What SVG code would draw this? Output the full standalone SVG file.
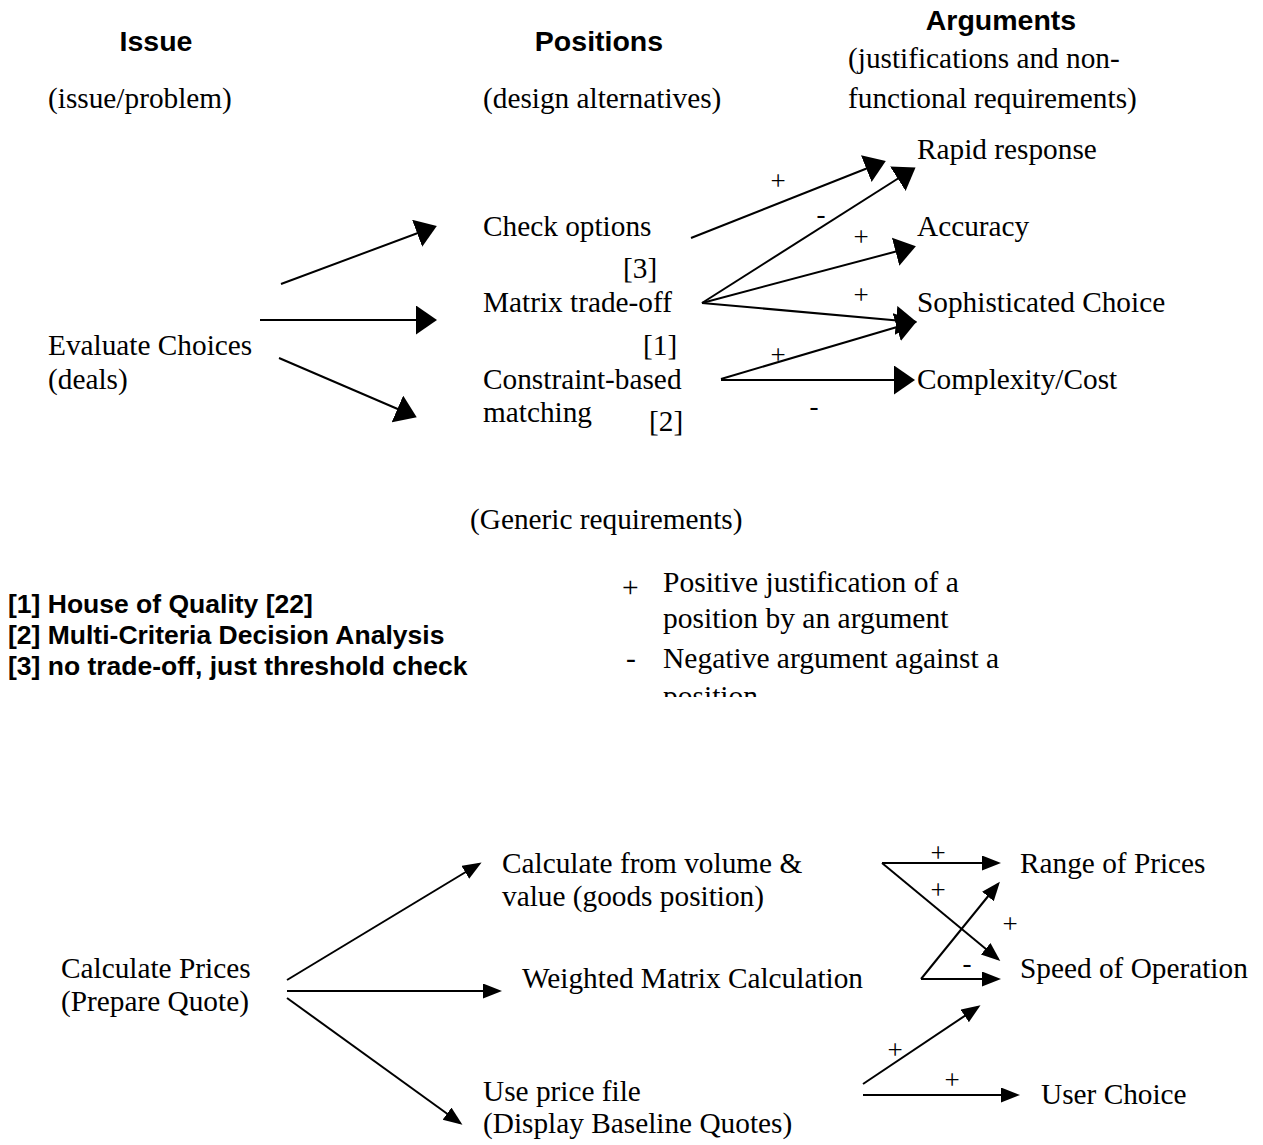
<svg xmlns="http://www.w3.org/2000/svg" width="1263" height="1145" viewBox="0 0 1263 1145">
  <style>
    .t { font-family: "Liberation Serif", "Times New Roman", serif; font-size: 29.3px; fill: #000; }
    .h { font-family: "Liberation Sans", Arial, sans-serif; font-size: 28.5px; font-weight: bold; fill: #000; }
    .lg { font-family: "Liberation Sans", Arial, sans-serif; font-size: 26.5px; font-weight: bold; fill: #000; }
    .k { font-family: "Liberation Serif", "Times New Roman", serif; font-size: 29.5px; fill: #000; }
    .s { font-family: "Liberation Serif", "Times New Roman", serif; font-size: 27px; fill: #000; }
    .c { stroke: #000; stroke-width: 2; fill: none; }
    .big { marker-end: url(#headBig); }
    .small { marker-end: url(#headSmall); }
  </style>
  <defs>
    <marker id="headBig" markerUnits="userSpaceOnUse" orient="auto" markerWidth="22" markerHeight="30" refX="18" refY="14.5">
      <path d="M0,0 L21,14.5 L0,29 z" fill="#000"/>
    </marker>
    <marker id="headSmall" markerUnits="userSpaceOnUse" orient="auto" markerWidth="20" markerHeight="16" refX="16" refY="7.5">
      <path d="M0,0 L19,7.5 L0,15 z" fill="#000"/>
    </marker>
    <clipPath id="legendClip">
      <rect x="600" y="560" width="500" height="137"/>
    </clipPath>
  </defs>
  <rect width="1263" height="1145" fill="#fff"/>

  <!-- column headings -->
  <g id="headings">
    <text class="h" x="156" y="51" text-anchor="middle">Issue</text>
    <text class="h" x="599" y="51" text-anchor="middle">Positions</text>
    <text class="h" x="1001" y="30" text-anchor="middle">Arguments</text>
    <text class="t" x="48" y="108">(issue/problem)</text>
    <text class="t" x="483" y="108">(design alternatives)</text>
    <text class="t" x="848" y="68">(justifications and non-</text>
    <text class="t" x="848" y="108">functional requirements)</text>
  </g>

  <!-- upper model: issue, positions, arguments -->
  <g id="issue-evaluate"><text class="t" x="48" y="355">Evaluate Choices</text><text class="t" x="48" y="389">(deals)</text></g>
  <g id="pos-check"><text class="t" x="483" y="236">Check options</text><text class="t" x="623" y="278">[3]</text></g>
  <g id="pos-matrix"><text class="t" x="483" y="312">Matrix trade-off</text><text class="t" x="643" y="355">[1]</text></g>
  <g id="pos-constraint"><text class="t" x="483" y="389">Constraint-based</text><text class="t" x="483" y="422">matching</text><text class="t" x="649" y="431">[2]</text></g>
  <g id="arg-rapid"><text class="t" x="917" y="159">Rapid response</text></g>
  <g id="arg-accuracy"><text class="t" x="917" y="236">Accuracy</text></g>
  <g id="arg-sophisticated"><text class="t" x="917" y="312">Sophisticated Choice</text></g>
  <g id="arg-complexity"><text class="t" x="917" y="389">Complexity/Cost</text></g>

  <g id="generic-note"><text class="t" x="470" y="529">(Generic requirements)</text></g>

  <!-- reference notes -->
  <g id="refs">
    <text class="lg" x="8" y="613">[1] House of Quality [22]</text>
    <text class="lg" x="8" y="644">[2] Multi-Criteria Decision Analysis</text>
    <text class="lg" x="8" y="675">[3] no trade-off, just threshold check</text>
  </g>

  <!-- key for + / - -->
  <g id="key" clip-path="url(#legendClip)">
    <text class="k" x="622" y="597">+</text>
    <text class="k" x="663" y="592">Positive justification of a</text>
    <text class="k" x="663" y="628">position by an argument</text>
    <text class="k" x="626" y="668">-</text>
    <text class="k" x="663" y="668">Negative argument against a</text>
    <text class="k" x="663" y="706">position</text>
  </g>

  <!-- lower model -->
  <g id="issue-prices"><text class="t" x="61" y="978">Calculate Prices</text><text class="t" x="61" y="1011">(Prepare Quote)</text></g>
  <g id="pos-volume"><text class="t" x="502" y="873">Calculate from volume &amp;</text><text class="t" x="502" y="906">value (goods position)</text></g>
  <g id="pos-weighted"><text class="t" x="522" y="988">Weighted Matrix Calculation</text></g>
  <g id="pos-pricefile"><text class="t" x="483" y="1101">Use price file</text><text class="t" x="483" y="1133">(Display Baseline Quotes)</text></g>
  <g id="arg-range"><text class="t" x="1020" y="873">Range of Prices</text></g>
  <g id="arg-speed"><text class="t" x="1020" y="978">Speed of Operation</text></g>
  <g id="arg-user"><text class="t" x="1041" y="1104">User Choice</text></g>

  <!-- connectors -->
  <g id="connectors">
    <line class="c big" x1="281" y1="284" x2="434" y2="227"/>
    <line class="c big" x1="260" y1="320" x2="434" y2="320"/>
    <line class="c big" x1="279" y1="358" x2="414" y2="416"/>

    <line class="c big" x1="691" y1="238" x2="883" y2="162"/>
    <line class="c big" x1="702" y1="303" x2="913" y2="169"/>
    <line class="c big" x1="702" y1="303" x2="913" y2="247"/>
    <line class="c big" x1="702" y1="303" x2="914" y2="322"/>
    <line class="c big" x1="721" y1="379" x2="914" y2="322"/>
    <line class="c big" x1="721" y1="380" x2="912" y2="380"/>

    <line class="c small" x1="287" y1="980" x2="479" y2="864"/>
    <line class="c small" x1="287" y1="991" x2="499" y2="991"/>
    <line class="c small" x1="287" y1="998" x2="460" y2="1123"/>

    <line class="c small" x1="882" y1="863" x2="998" y2="863"/>
    <line class="c small" x1="882" y1="863" x2="998" y2="959"/>
    <line class="c small" x1="921" y1="979" x2="998" y2="884"/>
    <line class="c small" x1="921" y1="979" x2="998" y2="979"/>
    <line class="c small" x1="863" y1="1084" x2="978" y2="1007"/>
    <line class="c small" x1="863" y1="1095" x2="1017" y2="1095"/>
  </g>

  <!-- connector signs -->
  <g id="signs">
    <text class="s" x="778" y="190" text-anchor="middle">+</text>
    <text class="s" x="821" y="223" text-anchor="middle">-</text>
    <text class="s" x="861" y="246" text-anchor="middle">+</text>
    <text class="s" x="861" y="304" text-anchor="middle">+</text>
    <text class="s" x="778" y="364" text-anchor="middle">+</text>
    <text class="s" x="814" y="415" text-anchor="middle">-</text>

    <text class="s" x="938" y="862" text-anchor="middle">+</text>
    <text class="s" x="938" y="899" text-anchor="middle">+</text>
    <text class="s" x="1010" y="933" text-anchor="middle">+</text>
    <text class="s" x="967" y="972" text-anchor="middle">-</text>
    <text class="s" x="895" y="1059" text-anchor="middle">+</text>
    <text class="s" x="952" y="1089" text-anchor="middle">+</text>
  </g>
</svg>
